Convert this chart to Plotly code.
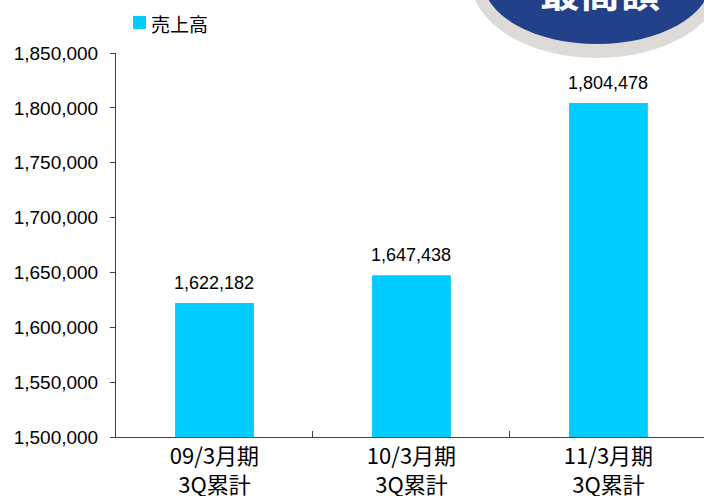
import plotly.graph_objects as go

# Sales (売上高), cumulative through Q3
categories = ["09/3月期<br>3Q累計", "10/3月期<br>3Q累計", "11/3月期<br>3Q累計"]
sales = [1622182, 1647438, 1804478]
series_name = "売上高"
y_ticks = [1500000, 1550000, 1600000, 1650000, 1700000, 1750000, 1800000, 1850000]

W, H = 704, 496
L, R, T, B = 116, 0, 53, 59
PW, PH = W - L - R, H - T - B

BAR = "#00CCFF"
AXIS = "#404040"


def px_x(p):
    return (p - L) / PW


def px_y(p):
    return (H - B - p) / PH


fig = go.Figure()
fig.add_trace(go.Bar(
    x=categories, y=sales, name=series_name,
    marker=dict(color=BAR, line=dict(width=0)),
    width=0.4, showlegend=False,
))

# value labels above each bar
for c, v in zip(categories, sales):
    fig.add_annotation(
        x=c, y=v, xref="x", yref="y", text=f"{v:,}", showarrow=False,
        yanchor="bottom", yshift=8,
        font=dict(family="Liberation Sans, Arial", size=18, color="#000000"),
    )

shapes = []
# badge in the top-right corner: grey rim and dark blue ellipse
cx, cy = 597, -20
for rx, ry, col in [(126, 78, "#DDDAD8"), (114, 64, "#22418A")]:
    shapes.append(dict(
        type="circle", xref="paper", yref="paper",
        x0=px_x(cx - rx), x1=px_x(cx + rx),
        y0=px_y(cy + ry), y1=px_y(cy - ry),
        fillcolor=col, line=dict(width=0), layer="above",
    ))
# legend swatch
shapes.append(dict(
    type="rect", xref="paper", yref="paper",
    x0=px_x(133), x1=px_x(146), y0=px_y(29), y1=px_y(16),
    fillcolor=BAR, line=dict(width=0),
))

annotations = [
    dict(xref="paper", yref="paper", x=px_x(149), y=px_y(23),
         xanchor="left", yanchor="middle", text=series_name, showarrow=False,
         font=dict(family="Noto Sans CJK JP", size=19, color="#000000")),
    dict(xref="paper", yref="paper", x=px_x(600), y=px_y(-10),
         xanchor="center", yanchor="middle", text="<b>最高額</b>", showarrow=False,
         font=dict(family="Noto Sans CJK JP", size=40, color="#FFFFFF")),
]

fig.update_layout(
    width=W, height=H,
    margin=dict(l=L, r=R, t=T, b=B, pad=0),
    paper_bgcolor="#FFFFFF", plot_bgcolor="#FFFFFF",
    bargap=0.6,
    shapes=shapes,
    annotations=list(fig.layout.annotations) + annotations,
    xaxis=dict(
        range=[-0.5, 2.485], showgrid=False, zeroline=False,
        showline=True, linecolor=AXIS, linewidth=1,
        ticks="inside", tickson="boundaries", ticklen=6, tickcolor=AXIS,
        ticklabelstandoff=0, automargin=False,
        tickfont=dict(family="Noto Sans CJK JP", size=22, color="#000000"),
        fixedrange=True,
    ),
    yaxis=dict(
        range=[1500000, 1850000], tickvals=y_ticks, tickformat=",d",
        showgrid=False, zeroline=False,
        showline=True, linecolor=AXIS, linewidth=1,
        ticks="outside", ticklen=5, tickcolor=AXIS,
        ticklabelstandoff=8, automargin=False,
        tickfont=dict(family="Liberation Sans, Arial", size=19, color="#000000"),
        fixedrange=True,
    ),
)

fig.write_html("out.html")
